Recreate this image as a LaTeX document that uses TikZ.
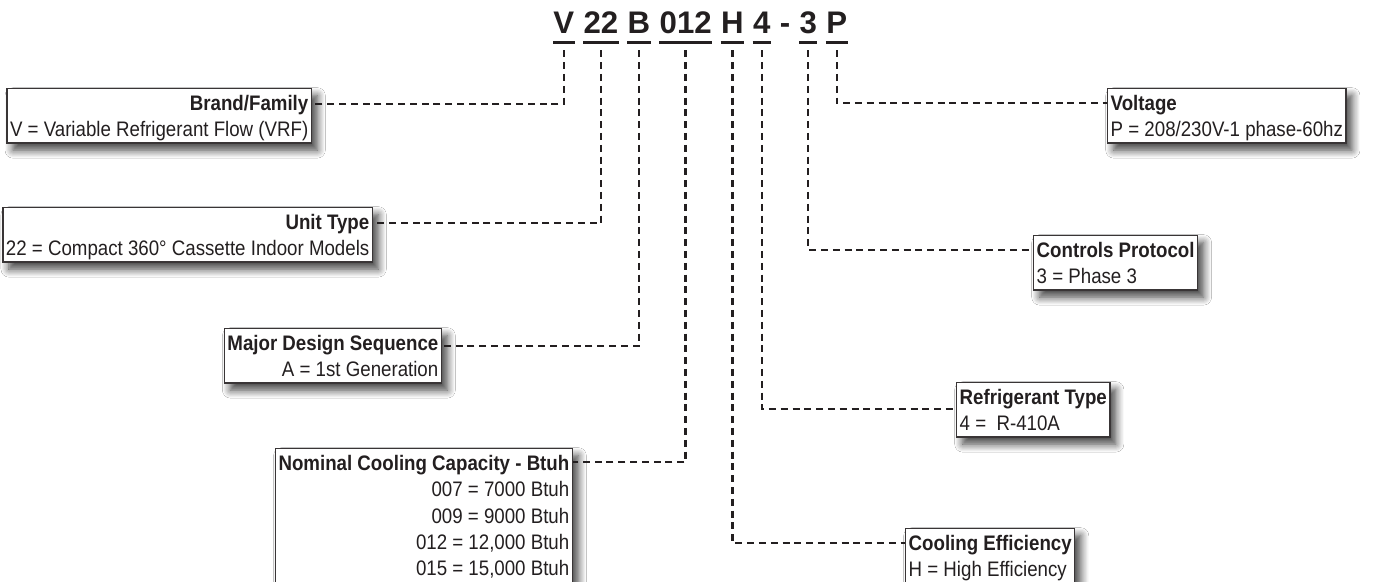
\documentclass[tikz,border=0pt]{standalone}
\usepackage{fontspec}
\setmainfont{Liberation Sans}[FakeStretch=0.89]
\newfontfamily\codefont{Liberation Sans}
\usepackage{tikz}
\usetikzlibrary{positioning,shadows.blur}
\definecolor{ink}{HTML}{231F20}
\tikzset{
  codechar/.style={font=\codefont\fontsize{15.6}{18}\selectfont\bfseries, text=ink,
    inner xsep=0pt, inner ysep=4pt, text height=11.2pt, text depth=0pt},
  uline/.style={draw=ink, line width=1.5pt},
  keybox/.style={draw=ink!90, line width=0.7pt, fill=white, text=ink,
    inner xsep=1.5pt, inner ysep=3.2pt, text depth=0pt,
    font=\fontsize{10.5}{13.2}\selectfont,
    blur shadow={shadow xshift=3pt, shadow yshift=-3.5pt, shadow blur steps=8,
      shadow blur radius=4pt, shadow opacity=75}},
  lkey/.style={keybox, align=right, anchor=north east},
  rkey/.style={keybox, align=left, anchor=north west},
  link/.style={draw=ink, line width=1.2pt, dash pattern=on 3.5pt off 2.4pt, shorten <=4pt}
}
\begin{document}
\begin{tikzpicture}[x=0.5pt, y=-0.5pt]
  \clip (0,0) rectangle (1391,582);
  \fill[white] (0,0) rectangle (1391,582);

  \node[codechar, anchor=base west] (cV) at (553,34) {V};
  \node[codechar, right=4.3pt of cV] (c22) {22};
  \node[codechar, right=4.3pt of c22] (cB) {B};
  \node[codechar, right=4.3pt of cB] (c012) {012};
  \node[codechar, right=4.3pt of c012] (cH) {H};
  \node[codechar, right=4.3pt of cH] (c4) {4};
  \node[codechar, right=4.3pt of c4] (cdash) {-};
  \node[codechar, right=4.3pt of cdash] (c3) {3};
  \node[codechar, right=4.3pt of c3] (cP) {P};
  \foreach \c in {cV,c22,cB,c012,cH,c4,c3,cP}
    \draw[uline] (\c.south west) -- (\c.south east);

  \node[lkey] (brand) at (312,88) {\textbf{Brand/Family}\\V = Variable Refrigerant Flow (VRF)};
  \node[lkey] (unit) at (373,207) {\textbf{Unit Type}\\22 = Compact 360° Cassette Indoor Models};
  \node[lkey] (major) at (442,328) {\textbf{Major Design Sequence}\\A = 1st Generation};
  \node[lkey, text depth=8pt] (nominal) at (573,448) {\textbf{Nominal Cooling Capacity - Btuh}\\007 = 7000 Btuh\\009 = 9000 Btuh\\012 = 12,000 Btuh\\015 = 15,000 Btuh};

  \node[rkey] (volt) at (1107,88) {\textbf{Voltage}\\P = 208/230V-1 phase-60hz};
  \node[rkey] (ctrl) at (1033,235) {\textbf{Controls Protocol}\\3 = Phase 3};
  \node[rkey] (refr) at (956,382) {\textbf{Refrigerant Type}\\4 = \ R-410A};
  \node[rkey, text depth=8pt] (cool) at (905,528) {\textbf{Cooling Efficiency}\\H = High Efficiency};

  \draw[link] (cV.south) |- ([yshift=-8pt]brand.north east);
  \draw[link] (c22.south) |- ([yshift=-8pt]unit.north east);
  \draw[link] (cB.south) |- ([yshift=-9pt]major.north east);
  \draw[link] (c012.south) |- ([yshift=-7pt]nominal.north east);
  \draw[link] (cH.south) |- ([yshift=-7.5pt]cool.north west);
  \draw[link] (c4.south) |- ([yshift=-13.5pt]refr.north west);
  \draw[link] (c3.south) |- ([yshift=-7.5pt]ctrl.north west);
  \draw[link] (cP.south) |- ([yshift=-7.5pt]volt.north west);
\end{tikzpicture}
\end{document}
